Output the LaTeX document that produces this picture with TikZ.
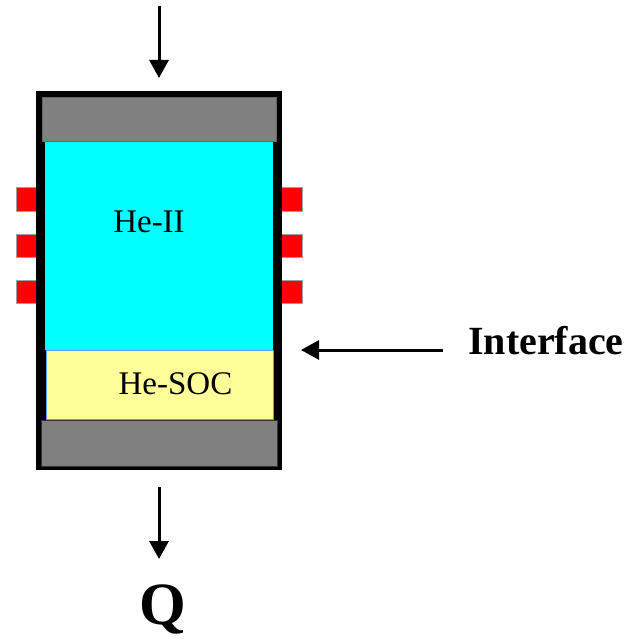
\documentclass[tikz,border=0pt]{standalone}
\usepackage{fontspec}
\setmainfont{Liberation Serif}
\usetikzlibrary{arrows.meta}
\definecolor{capgray}{HTML}{808080}
\definecolor{heii}{HTML}{00FFFF}
\definecolor{hesoc}{HTML}{FFFF99}
\definecolor{socedge}{HTML}{6699FF}
\definecolor{heatred}{HTML}{FF0000}
\definecolor{heatedge}{HTML}{A0A0A0}
\tikzset{
  heater/.style={fill=heatred, draw=heatedge, line width=1pt},
  flow/.style={line width=3pt, -{Triangle[length=18pt,width=19pt]}},
  lbl/.style={inner sep=0pt, anchor=base, font=\fontsize{33}{38}\selectfont},
}
\begin{document}
\begin{tikzpicture}[x=1pt,y=-1pt]
\useasboundingbox (0,0) rectangle (641,644);
% heaters
\foreach \yy in {188,234,280} {
  \draw[heater] (16,\yy) rectangle (37,\yy+23);
  \draw[heater] (281,\yy) rectangle (302,\yy+23);
}
% container
\fill[black] (36,91) rectangle (282,470);
\node[draw=capgray!80!black, line width=0.6pt, fill=capgray, minimum width=234pt, minimum height=44pt, inner sep=0pt, anchor=north west] (topcap) at (42,97) {};
\node[fill=heii, minimum width=227.5pt, minimum height=208pt, inner sep=0pt, anchor=north west] (he2) at (45,142) {};
\node[draw=socedge, line width=1pt, fill=hesoc, minimum width=227pt, minimum height=69pt, inner sep=0pt, anchor=north west] (soc) at (45.5,349.5) {};
\node[draw=black!80, line width=1.5pt, fill=capgray, minimum width=236pt, minimum height=46pt, inner sep=0pt, anchor=north west] (botcap) at (40.5,419.5) {};
% labels
\node[lbl] (t1) at (149,232) {He-II};
\node[lbl] (t2) at (175.5,394) {He-SOC};
\node[inner sep=0pt, font=\fontsize{40}{46}\selectfont\bfseries, anchor=base west] (iface) at (468,354) {Interface};
\node[inner sep=0pt, font=\fontsize{60}{68}\selectfont\bfseries, anchor=base] (q) at (162.5,624) {Q};
% arrows
\coordinate (inTop) at (159,6);
\coordinate (inTip) at (159,78);
\coordinate (outTop) at (159,487);
\coordinate (outTip) at (159,559);
\coordinate (ifStart) at (443,350);
\coordinate (ifTip) at (301,350);
\draw[flow] (inTop) -- (inTip);
\draw[flow] (outTop) -- (outTip);
\draw[flow] (ifStart) -- (ifTip);
\end{tikzpicture}
\end{document}
